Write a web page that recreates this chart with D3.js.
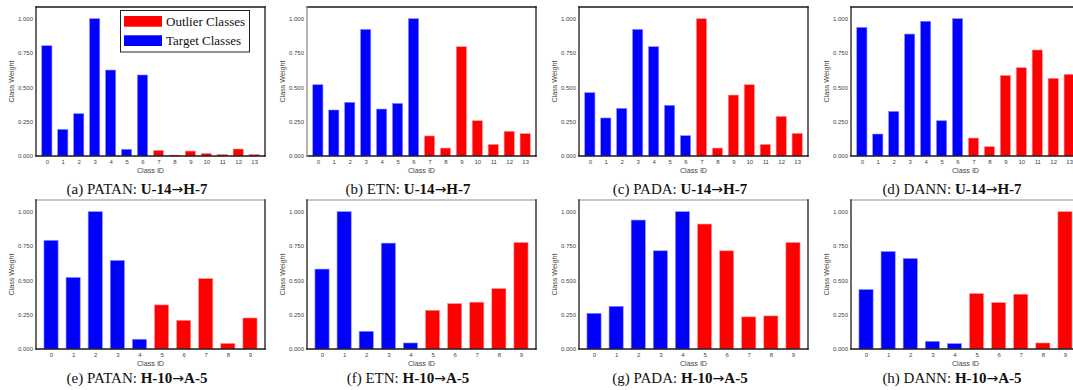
<!DOCTYPE html>
<html>
<head>
<meta charset="utf-8">
<script src="https://cdn.jsdelivr.net/npm/d3@7"></script>
<style>
    body { margin: 0; background: #fff; }
    svg { display: block; }
</style>
</head>
<body>
<svg id="chart" width="1073" height="390"></svg>
<script>
// class ids for each task
const ids_u14 = [0, 1, 2, 3, 4, 5, 6, 7, 8, 9, 10, 11, 12, 13]
const ids_h10 = [0, 1, 2, 3, 4, 5, 6, 7, 8, 9]
// how many classes are target classes (rest are outliers)
const target_u14 = 7
const target_h10 = 5

// class weights
const patan_u14 = [0.803, 0.194, 0.308, 1.000, 0.626, 0.049, 0.590, 0.041, 0.007, 0.036, 0.019, 0.012, 0.051, 0.012]
const etn_u14   = [0.519, 0.335, 0.391, 0.922, 0.342, 0.383, 1.000, 0.146, 0.058, 0.796, 0.257, 0.085, 0.180, 0.163]
const pada_u14  = [0.461, 0.277, 0.347, 0.922, 0.796, 0.369, 0.148, 1.000, 0.058, 0.444, 0.519, 0.085, 0.289, 0.165]
const dann_u14  = [0.937, 0.160, 0.325, 0.888, 0.981, 0.257, 1.000, 0.131, 0.068, 0.587, 0.643, 0.772, 0.566, 0.595]

const patan_h10 = [0.791, 0.521, 1.000, 0.645, 0.071, 0.321, 0.209, 0.513, 0.041, 0.226]
const etn_h10   = [0.582, 1.000, 0.129, 0.771, 0.044, 0.282, 0.331, 0.341, 0.440, 0.776]
const pada_h10  = [0.260, 0.311, 0.939, 0.715, 1.000, 0.910, 0.715, 0.234, 0.241, 0.776]
const dann_h10  = [0.433, 0.710, 0.659, 0.056, 0.039, 0.404, 0.338, 0.399, 0.044, 1.000]

const y_ticks = [0, 0.25, 0.5, 0.75, 1.0]
const legend_labels = ['Outlier Classes', 'Target Classes']

// task names are split around the arrow so it can get its own font
const panels = [
    { tag: '(a)', method: 'PATAN', src: 'U-14', tgt: 'H-7', ids: ids_u14, n_target: target_u14, weights: patan_u14, col: 0, row: 0, legend: true },
    { tag: '(b)', method: 'ETN',   src: 'U-14', tgt: 'H-7', ids: ids_u14, n_target: target_u14, weights: etn_u14,   col: 1, row: 0 },
    { tag: '(c)', method: 'PADA',  src: 'U-14', tgt: 'H-7', ids: ids_u14, n_target: target_u14, weights: pada_u14,  col: 2, row: 0 },
    { tag: '(d)', method: 'DANN',  src: 'U-14', tgt: 'H-7', ids: ids_u14, n_target: target_u14, weights: dann_u14,  col: 3, row: 0 },
    { tag: '(e)', method: 'PATAN', src: 'H-10', tgt: 'A-5', ids: ids_h10, n_target: target_h10, weights: patan_h10, col: 0, row: 1 },
    { tag: '(f)', method: 'ETN',   src: 'H-10', tgt: 'A-5', ids: ids_h10, n_target: target_h10, weights: etn_h10,   col: 1, row: 1 },
    { tag: '(g)', method: 'PADA',  src: 'H-10', tgt: 'A-5', ids: ids_h10, n_target: target_h10, weights: pada_h10,  col: 2, row: 1 },
    { tag: '(h)', method: 'DANN',  src: 'H-10', tgt: 'A-5', ids: ids_h10, n_target: target_h10, weights: dann_h10,  col: 3, row: 1 },
]

const BLUE = '#0000ff'
const RED = '#ff0000'
const sans = 'Liberation Sans, Arial, sans-serif'
const serif = 'Liberation Serif, Times New Roman, serif'

const col_left = [36, 307, 579, 851]
const row_top = [7, 200]
const frame_w = 229
const frame_h = 149

const svg = d3.select('#chart')

const make_panel = (p) => {

    const left = col_left[p.col]
    const top = row_top[p.row]
    const bottom = top + frame_h
    const right = left + frame_w
    const n = p.ids.length

    const x = d3.scaleLinear()
        .domain([-0.68, n - 1 + 0.68])
        .range([left, right])
    const y = d3.scaleLinear()
        .domain([0, 1.085])
        .range([bottom, top])
    const bar_w = x(0.64) - x(0)

    const g = svg.append('g')

    g.selectAll('rect.bar')
        .data(p.weights)
        .join('rect')
        .attr('class', 'bar')
        .attr('x', (d, i) => x(p.ids[i]) - bar_w / 2)
        .attr('y', d => y(d))
        .attr('width', bar_w)
        .attr('height', d => y(0) - y(d))
        .attr('fill', (d, i) => i < p.n_target ? BLUE : RED)
        .attr('stroke', (d, i) => i < p.n_target ? '#8c8cff' : '#ff9a9a')
        .attr('stroke-width', 0.6)

    // y axis, no tick marks
    const yAxis = d3.axisLeft(y)
        .tickValues(y_ticks)
        .tickFormat(d3.format('.3f'))
        .tickSize(0)
        .tickPadding(3)
    g.append('g')
        .attr('transform', `translate(${left},0)`)
        .call(yAxis)
        .call(a => a.select('.domain').remove())
        .selectAll('text')
        .attr('font-family', sans)
        .attr('font-size', 6)
        .attr('fill', '#444')

    const xAxis = d3.axisBottom(x)
        .tickValues(p.ids)
        .tickFormat(d3.format('d'))
        .tickSize(0)
        .tickPadding(4)
    g.append('g')
        .attr('transform', `translate(0,${bottom})`)
        .call(xAxis)
        .call(a => a.select('.domain').remove())
        .selectAll('text')
        .attr('font-family', sans)
        .attr('font-size', 6)
        .attr('fill', '#444')

    // frame
    const top_col = p.row === 1 ? '#b4b4b4' : '#1a1a1a'
    const left_col = p.col === 1 && p.row === 0 ? '#8a8a8a' : '#1a1a1a'
    const spines = [
        [left, top, right, top, top_col],
        [right, top, right, bottom, '#1a1a1a'],
        [left, bottom, right, bottom, '#1a1a1a'],
        [left, top, left, bottom, left_col],
    ]
    g.selectAll('line.spine')
        .data(spines)
        .join('line')
        .attr('class', 'spine')
        .attr('x1', d => d[0]).attr('y1', d => d[1])
        .attr('x2', d => d[2]).attr('y2', d => d[3])
        .attr('stroke', d => d[4])
        .attr('stroke-width', 1.3)
        .attr('stroke-linecap', 'square')

    g.append('text')
        .attr('x', (left + right) / 2)
        .attr('y', bottom + 16.5)
        .attr('text-anchor', 'middle')
        .attr('font-family', sans)
        .attr('font-size', 7.2)
        .attr('fill', '#444')
        .text('Class ID')

    g.append('text')
        .attr('transform', `translate(${left - 22.5},${(top + bottom) / 2}) rotate(-90)`)
        .attr('text-anchor', 'middle')
        .attr('font-family', sans)
        .attr('font-size', 7.2)
        .attr('fill', '#444')
        .text('Class Weight')

    const cap = g.append('text')
        .attr('x', left + 101)
        .attr('y', p.row === 0 ? 194 : 383)
        .attr('text-anchor', 'middle')
        .attr('font-family', serif)
        .attr('font-size', 15)
        .attr('fill', '#111')
    cap.append('tspan').text(`${p.tag} ${p.method}: `)
    cap.append('tspan').attr('font-weight', 'bold').text(p.src)
    cap.append('tspan').attr('font-family', 'DejaVu Sans, sans-serif').attr('font-size', 14).text('→')
    cap.append('tspan').attr('font-weight', 'bold').text(p.tgt)

    if (p.legend) make_legend(g)
}

const make_legend = (g) => {

    g.append('rect')
        .attr('x', 120.5).attr('y', 10.5)
        .attr('width', 129).attr('height', 41.5)
        .attr('fill', '#fff')
        .attr('stroke', '#222')
        .attr('stroke-width', 1)

    const items = g.selectAll('g.item')
        .data(legend_labels)
        .join('g')
        .attr('class', 'item')
        .attr('transform', (d, i) => `translate(124,${16 + i * 19.3})`)
    items.append('rect')
        .attr('width', 38).attr('height', 10.7)
        .attr('fill', (d, i) => i === 0 ? RED : BLUE)
    items.append('text')
        .attr('x', 42)
        .attr('y', 5.4)
        .attr('dy', '0.35em')
        .attr('font-family', serif)
        .attr('font-size', 13)
        .attr('fill', '#111')
        .text(d => d)
}

panels.forEach(make_panel)
</script>
</body>
</html>
